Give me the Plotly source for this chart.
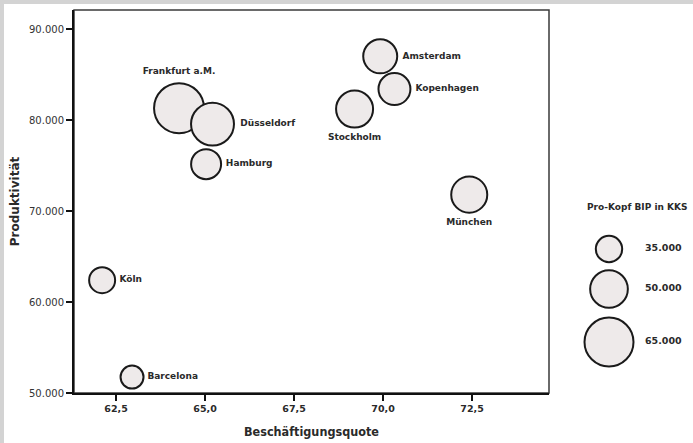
import plotly.graph_objects as go

# ---- data ----
cities = ["Frankfurt a.M.", "Düsseldorf", "Hamburg", "Amsterdam", "Kopenhagen",
          "Stockholm", "München", "Köln", "Barcelona"]
beschaeftigung = [64.27, 65.21, 65.03, 69.92, 70.32, 69.20, 72.42, 62.11, 62.95]
produktivitaet = [81300, 79550, 75150, 87000, 83400, 81200, 71800, 62400, 51750]
bip_kks = [66300, 57000, 39800, 45100, 42400, 49100, 47800, 34500, 30500]
label_pos = ["top center", "middle right", "middle right", "middle right", "middle right",
             "bottom center", "bottom center", "middle right", "middle right"]

x_tickvals = [62.5, 65.0, 67.5, 70.0, 72.5]
x_ticktext = ["62,5", "65,0", "67,5", "70,0", "72,5"]
y_tickvals = [50000, 60000, 70000, 80000, 90000]
y_ticktext = ["50.000", "60.000", "70.000", "80.000", "90.000"]

legend_title = "Pro-Kopf BIP in KKS"
legend_values = [35000, 50000, 65000]
legend_text = ["35.000", "50.000", "65.000"]

# ---- styling ----
FILL = "#eeeaea"
EDGE = "#1a1a1a"
TXT = "#2a2a2a"
SIZEREF = 65000 / 49.0  # diameter proportional to value

fig = go.Figure()

fig.add_trace(go.Scatter(
    x=beschaeftigung, y=produktivitaet, mode="markers+text",
    text=cities, textposition=label_pos,
    textfont=dict(family="DejaVu Sans", size=9, color=TXT, weight="bold"),
    marker=dict(size=bip_kks, sizemode="diameter", sizeref=SIZEREF,
                color=FILL, line=dict(color=EDGE, width=2), opacity=1),
    cliponaxis=False, hoverinfo="skip", showlegend=False,
    xaxis="x", yaxis="y"))

# size legend (drawn on hidden helper axes)
leg_y = [249, 289, 342]
fig.add_trace(go.Scatter(
    x=[609] * 3, y=leg_y, mode="markers",
    marker=dict(size=legend_values, sizemode="diameter", sizeref=SIZEREF,
                color=FILL, line=dict(color=EDGE, width=2), opacity=1),
    cliponaxis=False, hoverinfo="skip", showlegend=False,
    xaxis="x2", yaxis="y2"))
fig.add_trace(go.Scatter(
    x=[645] * 3, y=leg_y, mode="text", text=legend_text,
    textposition="middle right",
    textfont=dict(family="DejaVu Sans", size=9.5, color=TXT, weight="bold"),
    cliponaxis=False, hoverinfo="skip", showlegend=False,
    xaxis="x2", yaxis="y2"))

fig.add_annotation(x=637, y=207, xref="x2", yref="y2", text=legend_title,
                   showarrow=False, xanchor="center", yanchor="middle",
                   font=dict(family="DejaVu Sans", size=9, color=TXT, weight="bold"))

W, H = 693, 443
L, R, T, B = 74, 4, 10, 50
pw = W - L - R
ph = H - T - B
main_right = 549

def px_x(px):
    return (px - L) / pw

def px_y(py):
    return (H - B - py) / ph

# light gray frame strips (left and top)
fig.add_shape(type="rect", xref="paper", yref="paper", layer="below",
              x0=px_x(0), x1=px_x(4), y0=px_y(H), y1=px_y(0),
              fillcolor="#d3d3d3", line=dict(width=0))
fig.add_shape(type="rect", xref="paper", yref="paper", layer="below",
              x0=px_x(0), x1=px_x(W), y0=px_y(4), y1=px_y(0),
              fillcolor="#d3d3d3", line=dict(width=0))
# thinner top/right frame of the plot box
fig.add_shape(type="rect", xref="paper", yref="paper", layer="below",
              x0=0, x1=px_x(main_right), y0=0, y1=1,
              fillcolor="rgba(0,0,0,0)", line=dict(color="#3a3a3a", width=1.5))

axis_common = dict(showline=True, linewidth=2, linecolor="#111111", mirror=False,
                   ticks="outside", ticklen=6, tickwidth=2, tickcolor="#111111",
                   showgrid=False, zeroline=False)

fig.update_layout(
    width=W, height=H,
    margin=dict(l=L, r=R, t=T, b=B),
    paper_bgcolor="white", plot_bgcolor="white",
    xaxis=dict(domain=[0, px_x(main_right)], range=[61.32, 74.66],
               tickvals=x_tickvals, ticktext=x_ticktext,
               tickfont=dict(family="DejaVu Sans", size=9.5, color=TXT, weight="bold"),
               title=dict(text="Beschäftigungsquote", standoff=14,
                          font=dict(family="DejaVu Sans Condensed, DejaVu Sans", size=12.5,
                                    color=TXT, weight="bold")),
               **axis_common),
    yaxis=dict(domain=[0, 1], range=[50000, 92090],
               tickvals=y_tickvals, ticktext=y_ticktext,
               tickfont=dict(family="DejaVu Sans", size=10, color="#333"),
               title=dict(text="Produktivität", standoff=7,
                          font=dict(family="DejaVu Sans", size=12, color=TXT, weight="bold")),
               **axis_common),
    xaxis2=dict(domain=[px_x(575), 1], range=[575, 689], visible=False,
                anchor="y2", fixedrange=True),
    yaxis2=dict(domain=[0, 1], range=[H - B, T], visible=False,
                anchor="x2", fixedrange=True),
)

fig.write_html("out.html", config={"displayModeBar": False},
               post_script="document.body.style.margin='0';document.body.style.overflow='hidden';")
